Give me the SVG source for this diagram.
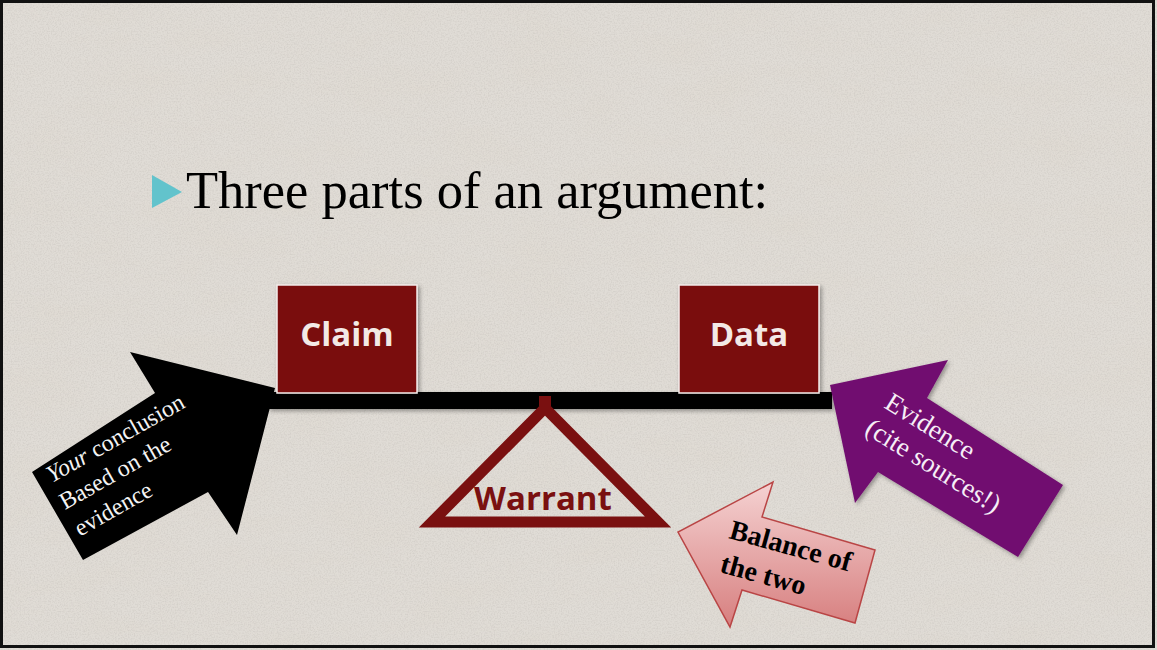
<svg xmlns="http://www.w3.org/2000/svg" width="1157" height="650" viewBox="0 0 1157 650">
  <style>
    .serif { font-family: "Liberation Serif", "Times New Roman", serif; }
    .sans { font-family: "Open Sans", "Liberation Sans", Arial, sans-serif; font-weight: bold; }
    .boxtxt { font-size: 33px; fill: #f3e9e6; text-anchor: middle; }
    .box { fill: #7a0e0e; stroke: #f4ecea; stroke-width: 1.5; }
    .arrowtxt { font-size: 24px; fill: #f4f4f4; }
  </style>
  <defs>
    <filter id="grain" x="0" y="0" width="100%" height="100%">
      <feTurbulence type="fractalNoise" baseFrequency="0.7" numOctaves="2" seed="7" result="t"/>
      <feColorMatrix type="matrix" values="0 0 0 0 0.62  0 0 0 0 0.59  0 0 0 0 0.55  0 0 0 2.6 -1.05"/>
    </filter>
    <filter id="blotch" x="0" y="0" width="100%" height="100%">
      <feTurbulence type="fractalNoise" baseFrequency="0.012 0.03" numOctaves="3" seed="11" result="t"/>
      <feColorMatrix type="matrix" values="0 0 0 0 0.74  0 0 0 0 0.70  0 0 0 0 0.64  0 0 0 1.8 -0.7"/>
    </filter>
    <filter id="shadow" x="-10%" y="-10%" width="130%" height="140%">
      <feDropShadow dx="2" dy="2" stdDeviation="2" flood-color="#000" flood-opacity="0.35"/>
    </filter>
    <linearGradient id="pinkGrad" gradientUnits="userSpaceOnUse" x1="0" y1="482" x2="0" y2="627">
      <stop offset="0" stop-color="#f5d2d2"/>
      <stop offset="1" stop-color="#d77f7f"/>
    </linearGradient>
  </defs>

  <!-- background -->
  <rect x="0" y="0" width="1157" height="650" fill="#e0dcd6"/>
  <rect x="0" y="0" width="1157" height="650" filter="url(#blotch)" opacity="0.7"/>
  <rect x="0" y="0" width="1157" height="650" filter="url(#grain)" opacity="0.6"/>
  <rect x="1.5" y="1.5" width="1152" height="645" fill="none" stroke="#111" stroke-width="3"/>

  <!-- title -->
  <g id="title">
    <polygon points="152,175 182,192 152,208" fill="#62c3cc"/>
    <text class="serif" x="186" y="208" font-size="52.5" fill="#000">Three parts of an argument:</text>
  </g>

  <!-- connectors: the balance beam -->
  <g id="connectors">
    <rect x="268" y="392" width="564" height="17" fill="#000" filter="url(#shadow)"/>
  </g>

  <g id="claim">
    <rect class="box" x="277" y="285" width="140" height="108" filter="url(#shadow)"/>
    <text class="sans boxtxt" x="347" y="346">Claim</text>
  </g>

  <g id="data">
    <rect class="box" x="679" y="285" width="140" height="108" filter="url(#shadow)"/>
    <text class="sans boxtxt" x="749" y="346">Data</text>
  </g>

  <g id="warrant">
    <polygon points="545,408 432,522 658,522" fill="none" stroke="#7a1010" stroke-width="11" stroke-linejoin="miter" stroke-miterlimit="4"/>
    <rect x="539" y="396" width="12" height="10" fill="#7a1010"/>
    <text class="sans" x="543" y="510" font-size="33" fill="#7a1010" text-anchor="middle">Warrant</text>
  </g>

  <g id="arrow-conclusion">
    <polygon points="32,472 155,393 130,352 275,388 237,535 208,492 83,560" fill="#000"/>
    <g transform="translate(52,483) rotate(-29.5)">
      <text class="serif arrowtxt" x="0" y="0"><tspan font-style="italic">Your</tspan> conclusion</text>
      <text class="serif arrowtxt" x="-2" y="30">Based on the</text>
      <text class="serif arrowtxt" x="-2" y="60.5">evidence</text>
    </g>
  </g>

  <g id="arrow-evidence">
    <polygon points="1063,485 927,398 948,360 830,385 855,503 878,472 1018,557" fill="#71106f" filter="url(#shadow)"/>
    <g transform="translate(883,407) rotate(32)">
      <text class="serif" x="0" y="0" font-size="27" fill="#f6eef6">Evidence</text>
      <text class="serif" x="-3" y="32" font-size="27" fill="#f6eef6">(cite sources!)</text>
    </g>
  </g>

  <g id="arrow-balance">
    <polygon points="875,550 762,517 773,482 678,532 730,627 742,590 855,623" fill="url(#pinkGrad)" stroke="#b94545" stroke-width="1.5" stroke-linejoin="miter"/>
    <g transform="translate(728,538) rotate(15.5)">
      <text class="serif" x="0" y="0" font-size="28" font-weight="bold" fill="#000">Balance of</text>
      <text class="serif" x="0" y="35" font-size="28" font-weight="bold" fill="#000">the two</text>
    </g>
  </g>
</svg>
